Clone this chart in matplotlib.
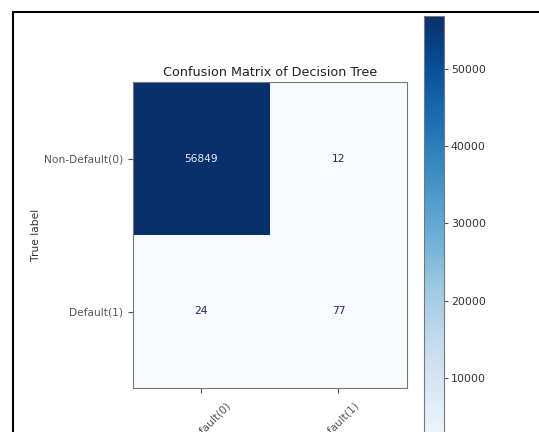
import numpy as np
import matplotlib
matplotlib.use('Agg')
import matplotlib.pyplot as plt
from matplotlib.patches import Rectangle

# Confusion matrix values (rows = true label, cols = predicted label)
class_names = ['Non-Default(0)', 'Default(1)']
cm = np.array([[56849, 12],
               [24, 77]])
cbar_ticks = [10000, 20000, 30000, 40000, 50000]

W, H = 539, 432
fig = plt.figure(figsize=(W / 100, H / 100), dpi=100)

# black frame around the figure area
fig.patches.append(Rectangle((13 / W, -0.05), 1.0, 1 - 12 / H + 0.05,
                             transform=fig.transFigure, fill=False,
                             edgecolor='black', lw=1.5))

ax = fig.add_axes([132.5 / W, 1 - 388 / H, 274.5 / W, 306 / H])
im = ax.imshow(cm, interpolation='nearest', cmap=plt.cm.Blues, aspect='auto')
ax.set_title('Confusion Matrix of Decision Tree', fontsize=9.15, pad=4,
             color='#222222')

tick_marks = np.arange(len(class_names))
ax.set_xticks(tick_marks)
ax.set_xticklabels(class_names, rotation=45, fontsize=7.7, color='#333333')
ax.set_yticks(tick_marks)
ax.set_yticklabels(class_names, fontsize=7.7, color='#333333')
ax.set_ylabel('True label', fontsize=7.7, color='#333333')
ax.yaxis.set_label_coords(-0.333, 0.5)
for sp in ax.spines.values():
    sp.set_color('#777777')
ax.tick_params(colors='#555555', length=3.5)
ax.tick_params(axis='x', pad=5)

thresh = cm.max() / 2.
for i in range(cm.shape[0]):
    for j in range(cm.shape[1]):
        ax.text(j, i, format(cm[i, j], 'd'), ha='center', va='center',
                fontsize=7.7,
                color='#e8ecf5' if cm[i, j] > thresh else '#1a2a55')

cax = fig.add_axes([424 / W, 1 - 455 / H, 20 / W, 439 / H])
cb = fig.colorbar(im, cax=cax, ticks=cbar_ticks)
cb.outline.set_edgecolor('#777777')
cb.ax.tick_params(labelsize=7.9, colors='#555555', length=3, pad=2)
for t in cb.ax.get_yticklabels():
    t.set_color('#333333')

fig.savefig('out.png', dpi=100)
